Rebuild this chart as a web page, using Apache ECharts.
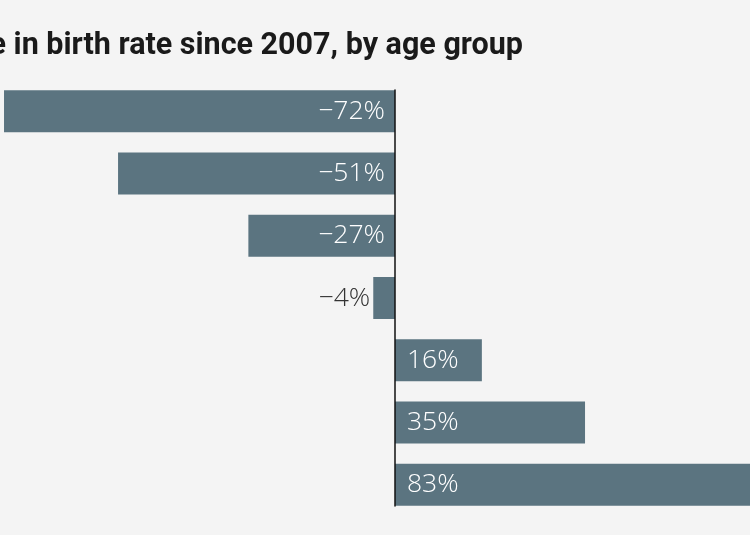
<!DOCTYPE html>
<html>
<head>
<meta charset="utf-8">
<script src="https://cdn.jsdelivr.net/npm/echarts@6/dist/echarts.min.js"></script>
<style>
html,body{margin:0;padding:0;background:#f4f4f4;}
#chart{width:750px;height:535px;}
</style>
</head>
<body>
<div id="chart"></div>
<script>
const titleText = "Change in birth rate since 2007, by age group";
const ageGroups = ["15–19", "20–24", "25–29", "30–34", "35–39", "40–44", "45–49"];
const changePct = [-72, -51, -27, -4, 16, 35, 83];
const xMin = -72.74, xMax = 65.38;

const chart = echarts.init(document.getElementById('chart'));
const barColor = '#5b7480';
const labelFont = '"Open Sans", "Roboto", sans-serif';

const seriesData = changePct.map(function (v) {
  let label;
  if (v >= 0) {
    label = {position: 'insideLeft', distance: 12, color: '#ffffff'};
  } else if (v > -10) {
    label = {position: 'left', distance: 3, color: '#333333'};
  } else {
    label = {position: 'insideRight', distance: 10, color: '#ffffff'};
  }
  return {value: v, label: label};
});

chart.setOption({
  backgroundColor: '#f4f4f4',
  animation: false,
  title: {
    text: titleText,
    right: 227,
    top: 31,
    padding: 0,
    textStyle: {
      fontFamily: '"Roboto", sans-serif',
      fontWeight: 'bold',
      fontSize: 30.5,
      color: '#1a1a1a'
    }
  },
  grid: [
    {left: 0, right: 0, top: 80, bottom: 19, containLabel: false},
    {left: 0, right: 0, top: 90, bottom: 29, containLabel: false}
  ],
  xAxis: [
    {gridIndex: 0, type: 'value', min: xMin, max: xMax, show: false},
    {gridIndex: 1, type: 'value', min: xMin, max: xMax, show: false, axisLine: {show: false}, splitLine: {show: false}}
  ],
  yAxis: [
    {gridIndex: 0, type: 'category', data: ageGroups, inverse: true,
     axisLine: {show: false}, axisTick: {show: false}, axisLabel: {show: false}, splitLine: {show: false}},
    {gridIndex: 1, type: 'category', data: ageGroups, inverse: true,
     axisLine: {show: true, onZero: true, lineStyle: {color: '#111', width: 1.5}},
     axisTick: {show: false}, axisLabel: {show: false}, splitLine: {show: false}, z: 10}
  ],
  series: [{
    type: 'bar',
    xAxisIndex: 0,
    yAxisIndex: 0,
    data: seriesData,
    barWidth: 42,
    itemStyle: {color: barColor},
    label: {
      show: true,
      formatter: function (p) {
        return (p.value < 0 ? '\u2212' + Math.abs(p.value) : p.value) + '%';
      },
      fontFamily: labelFont,
      fontWeight: 300,
      fontSize: 26.5
    }
  }]
});
</script>
</body>
</html>
